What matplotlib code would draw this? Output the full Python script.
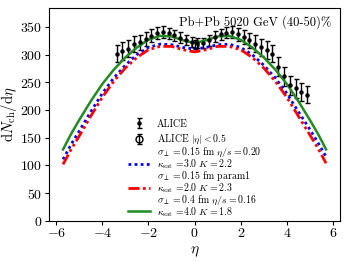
import matplotlib
matplotlib.use("Agg")
import matplotlib.pyplot as plt
from matplotlib.lines import Line2D
import numpy as np

plt.rcParams['font.family'] = 'serif'
plt.rcParams['font.serif'] = ['cmr10']
plt.rcParams['mathtext.fontset'] = 'cm'
plt.rcParams['axes.formatter.use_mathtext'] = True
plt.rcParams['font.size'] = 10

# ALICE data
alice_eta = [-3.375, -3.125, -2.875, -2.625, -2.375, -2.125, -1.875, -1.625, -1.375, -1.125,
             -0.875, -0.625, -0.375, -0.125, 0.125, 0.375, 0.625, 0.875, 1.125, 1.375,
             1.625, 1.875, 2.125, 2.375, 2.625, 2.875, 3.125, 3.375, 3.625, 3.875,
             4.125, 4.375, 4.625, 4.875]
alice_val = [302, 307, 311, 319, 322, 328, 334, 339, 341, 339,
             335, 331, 327, 323, 321, 321, 326, 332, 337, 340,
             341, 337, 332, 326, 320, 313, 308, 302, 278, 261,
             245, 239, 233, 228]
alice_err = [16, 16, 15, 15, 14, 13, 12, 11, 10, 10,
             10, 10, 9, 9, 9, 9, 10, 10, 10, 10,
             11, 12, 13, 14, 15, 15, 16, 16, 17, 17,
             17, 17, 16, 16]
mid_eta = [0.0]
mid_val = [318]
mid_err = [8]

# model curves
eta = [-5.7, -5.35, -5.0, -4.5, -4.0, -3.5, -3.0, -2.5, -2.0, -1.5, -1.0, -0.5, 0.0,
       0.5, 1.0, 1.5, 2.0, 2.5, 3.0, 3.5, 4.0, 4.5, 5.0, 5.35, 5.7]
green = [129, 157, 182, 216, 247, 273, 295, 313, 327, 334, 333, 326, 321,
         326, 333, 334, 327, 313, 295, 273, 247, 216, 182, 157, 129]
blue = [111, 138, 162, 197, 230, 258, 281, 300, 313, 319, 318, 313, 310,
        313, 318, 319, 313, 300, 281, 258, 230, 197, 165, 141, 116]
red = [102, 129, 153, 189, 223, 252, 276, 295, 309, 315, 315, 309, 305,
       309, 315, 315, 309, 295, 276, 252, 223, 189, 155, 131, 104]

label_top = [r'$\sigma_\perp=0.15$ fm $\eta/s=0.20$',
             r'$\sigma_\perp=0.15$ fm param1',
             r'$\sigma_\perp=0.4$ fm $\eta/s=0.16$']
label_bot = [r'$\kappa_{\rm sat}$ =3.0 $K=2.2$',
             r'$\kappa_{\rm sat}$ =2.0 $K=2.3$',
             r'$\kappa_{\rm sat}$ =4.0 $K=1.8$']

fig = plt.figure(figsize=(3.49, 2.62), dpi=100)
ax = fig.add_axes([0.141, 0.157, 0.833, 0.814])

h1 = ax.errorbar(alice_eta, alice_val, yerr=alice_err, fmt='o', color='black',
                 markersize=2.2, capsize=1.8, elinewidth=1, capthick=1, label='ALICE')
h2 = ax.errorbar(mid_eta, mid_val, yerr=mid_err, fmt='o', color='black', mfc='none',
                 markersize=5, capsize=1.8, elinewidth=1, capthick=1, label=r'ALICE $|\eta|<0.5$')
l1, = ax.plot(eta, blue, color='blue', linestyle=(0, (1, 1.2)), linewidth=2)
l2, = ax.plot(eta, red, color='red', linestyle=(0, (4, 1.2, 1, 1.2, 1, 1.2)), linewidth=2)
l3, = ax.plot(eta, green, color='#228B22', linestyle='-', linewidth=1.8)

ax.set_ylim(0, 385)
ax.set_xlim(-6.3, 6.3)
ax.set_xticks([-6, -4, -2, 0, 2, 4, 6])
ax.set_yticks([0, 50, 100, 150, 200, 250, 300, 350])
ax.tick_params(axis='x', pad=1.5, length=3)
ax.tick_params(axis='y', pad=2, length=3)
ax.set_xlabel(r'$\eta$', fontsize=11, labelpad=3)
ax.set_ylabel(r'$\mathrm{d}N_{\rm ch}/\mathrm{d}\eta$', fontsize=10.5, labelpad=1)
ax.text(0.97, 0.93, 'Pb+Pb 5020 GeV (40-50)%', transform=ax.transAxes,
        ha='right', va='center', fontsize=9)

common = dict(frameon=False, fontsize=7.1, handlelength=2.25, handletextpad=0.7,
              borderpad=0, borderaxespad=0)
legA = ax.legend(handles=[h1, h2], loc='upper left', bbox_to_anchor=(0.27, 0.477),
                 labelspacing=0.45, **common)
ax.add_artist(legA)

blank = Line2D([], [], linestyle='none')
handlesB, labelsB = [], []
for line, top, bot in zip([l1, l2, l3], label_top, label_bot):
    handlesB += [blank, line]
    labelsB += [top, bot]
legB = ax.legend(handles=handlesB, labels=labelsB, loc='upper left',
                 bbox_to_anchor=(0.27, 0.351), labelspacing=-0.18, **common)

fig.savefig('out.png', dpi=100)
